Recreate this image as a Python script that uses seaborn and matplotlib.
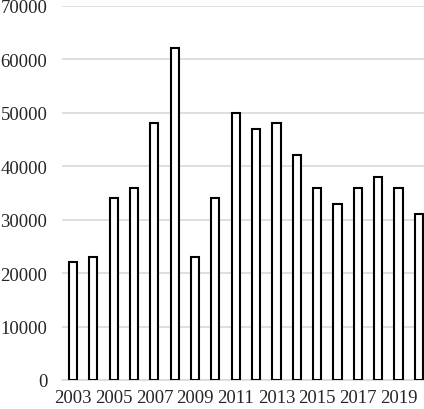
import matplotlib
matplotlib.use("Agg")
import matplotlib.pyplot as plt
import seaborn as sns
import pandas as pd

# data
years = [str(y) for y in range(2003, 2021)]
values = [22000, 23000, 34000, 36000, 48000, 62000, 23000, 34000, 50000,
          47000, 48000, 42000, 36000, 33000, 36000, 38000, 36000, 31000]
yticks = [0, 10000, 20000, 30000, 40000, 50000, 60000, 70000]

sns.set_style("white")
plt.rcParams['font.family'] = ['Liberation Serif', 'DejaVu Serif']

df = pd.DataFrame({"year": years, "value": values})

fig = plt.figure(figsize=(4.24, 4.10), dpi=100)
ax = fig.add_axes([62 / 424, 29 / 410, 1 - 62 / 424, (381 - 6.7) / 410])

sns.barplot(data=df, x="year", y="value", color="white", edgecolor="black",
            linewidth=1.5, width=0.4, ax=ax, zorder=3)

ax.set_ylim(0, 70000)
ax.set_yticks(yticks)
ax.set_yticklabels([str(t) for t in yticks], fontsize=13.5)
ax.yaxis.grid(True, color="#d9d9d9", linewidth=1.2, zorder=0)
ax.set_axisbelow(True)

ax.set_xlim(-0.54, 17.25)
ax.set_xticks(range(0, len(years), 2))
ax.set_xticklabels(years[::2], fontsize=13.5)
ax.set_xlabel("")
ax.set_ylabel("")
ax.tick_params(axis="y", length=0, pad=10.5)
ax.tick_params(axis="x", length=0, pad=6.5)

for side in ["top", "right", "left"]:
    ax.spines[side].set_visible(False)
ax.spines["bottom"].set_color("#d9d9d9")
ax.spines["bottom"].set_linewidth(1.2)

fig.savefig("out.png", dpi=100)
